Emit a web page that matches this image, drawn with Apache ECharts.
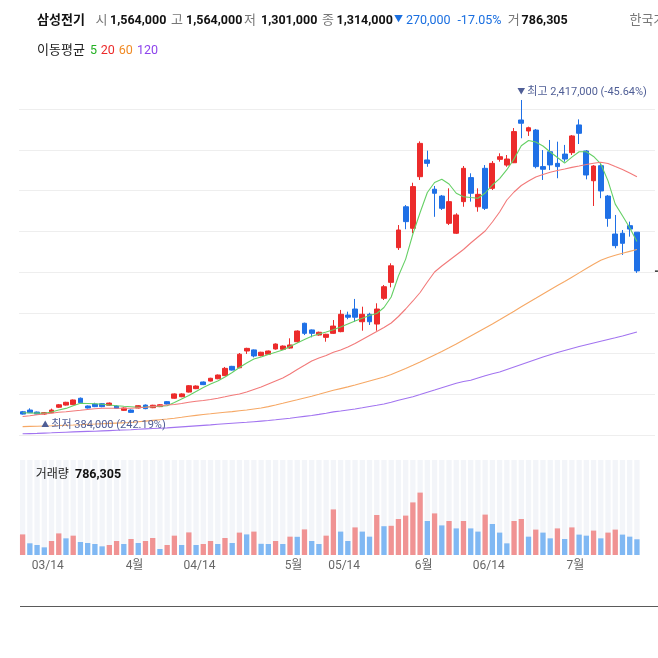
<!DOCTYPE html>
<html><head><meta charset="utf-8">
<script src="https://cdn.jsdelivr.net/npm/echarts/dist/echarts.min.js"></script>
<style>html,body{margin:0;padding:0;background:#fff}#c{width:658px;height:658px}</style>
</head><body><div id="c"></div>
<script>
// prices in thousand KRW
const ohlcOpen = [405,416,403,390,399,434,448,451,492,442,
 455,457,447,442,414,416,429,448,431,438,
 470,492,502,532,554,597,603,618,638,698,
 689,797,804,767,776,810,808,816,857,976,
 933,900,885,911,922,1029,1068,986,1034,971,
 1137,1240,1464,1728,1589,1922,2030,1841,1797,1621,
 1557,1761,1916,1728,1976,1847,2034,1997,2012,2288,
 2217,2223,1987,2083,2008,2068,2077,2256,2088,1896,
 1993,1797,1552,1557,1606,1564];
const ohlcClose = [390,399,390,399,416,450,466,481,463,429,
 438,438,461,427,429,401,444,425,447,450,
 455,520,520,573,571,580,621,642,685,674,
 776,814,765,789,797,842,829,836,926,911,
 911,918,905,958,1034,1015,1015,1034,986,1068,
 1212,1347,1578,1632,1858,2137,2008,1815,1718,1761,
 1675,1976,1815,1808,1718,2008,2051,2036,2213,2267,
 2238,1987,1970,1998,1987,2036,2185,2202,1933,1991,
 1830,1653,1477,1492,1584,1314];
const ohlcLow = [387,397,388,384,396,429,445,448,460,426,
 435,434,443,424,410,397,426,421,428,435,
 452,489,499,529,551,577,600,615,635,671,
 686,778,756,762,772,806,804,812,851,900,
 885,896,857,907,918,1002,986,928,965,928,
 1126,1208,1449,1583,1557,1901,1986,1663,1707,1610,
 1552,1728,1761,1696,1707,1836,2019,1986,2010,2170,
 2185,1976,1901,1965,1912,2019,2062,2133,1905,1733,
 1783,1599,1460,1417,1535,1301];
const ohlcHigh = [410,427,406,403,425,455,469,484,497,445,
 463,461,465,446,433,420,448,452,450,454,
 474,523,524,577,575,600,624,645,694,701,
 784,818,807,792,800,846,833,879,930,980,
 936,922,908,997,1062,1051,1133,1083,1044,1105,
 1223,1363,1610,1739,1883,2150,2090,1862,1804,1847,
 1686,1991,1944,1847,1997,2023,2073,2062,2236,2417,
 2245,2230,2094,2159,2148,2127,2191,2292,2094,1997,
 2004,1804,1675,1578,1632,1564];
const volume = [1030000,585000,500000,383000,700000,1080000,833000,967000,650000,600000,
 550000,433000,500000,700000,550000,800000,600000,700000,850000,300000,
 500000,967000,500000,1130000,500000,550000,700000,550000,850000,600000,
 1120000,1030000,1170000,560000,550000,700000,550000,917000,910000,1280000,
 700000,550000,967000,2280000,1170000,700000,1380000,1170000,917000,2000000,
 1440000,1460000,1800000,1970000,2630000,3120000,1700000,2080000,1480000,1700000,
 1330000,1700000,1330000,1170000,2020000,1550000,1120000,583000,1700000,1800000,
 917000,1270000,1120000,833000,1330000,800000,1380000,1020000,967000,1220000,
 833000,1120000,1270000,1020000,917000,786305];
const ma5 = [398.2,396.9,396.3,395.0,403.4,416.3,426.6,443.4,459.5,458.2,
 456.3,453.7,448.5,444.0,440.2,437.6,434.3,435.6,437.6,440.2,
 443.4,464.7,487.3,509.9,535.7,561.5,584.1,603.4,629.3,658.3,
 690.6,719.6,745.4,758.3,774.5,788.7,803.5,826.1,848.7,871.3,
 892.6,906.8,919.7,933.9,952.0,971.3,990.7,1008.1,1026.2,1039.1,
 1077.8,1145.6,1281.1,1390.0,1552.2,1691.0,1820.0,1884.6,1905.2,1874.8,
 1815.0,1792.9,1787.7,1783.2,1816.8,1868.4,1910.0,1967.0,2037.0,2121.4,
 2155.6,2145.9,2120.1,2081.4,2045.9,2010.0,2048.0,2083.3,2083.3,2052.4,
 2004.0,1895.0,1745.0,1670.0,1592.0,1503.8];
const ma20 = [374.3,379.5,385.3,390.5,395.6,401.4,405.3,409.8,414.3,419.5,
 424.0,427.2,427.2,427.2,427.2,427.2,430.5,434.3,438.9,444.0,
 448.5,451.8,458.2,466.0,472.4,477.6,484.0,492.4,501.5,511.1,
 519.5,532.4,548.6,564.7,584.1,603.4,622.8,648.6,677.7,704.8,
 732.5,751.9,768.0,788.7,803.5,822.9,845.5,871.3,897.1,922.9,
 948.7,977.8,1019.7,1068.1,1119.8,1174.6,1242.4,1306.9,1345.6,1381.2,
 1416.6,1452.1,1494.1,1532.8,1571.5,1629.6,1694.2,1771.6,1823.2,1865.2,
 1894.2,1920.1,1936.2,1950.4,1962.0,1971.7,1982.0,1991.0,2000.7,2009.1,
 2015.0,2007.2,1987.8,1968.5,1945.9,1922.0];
const ma60 = [309.1,310.4,311.7,313.0,314.3,316.2,318.2,319.5,321.4,324.0,
 325.9,327.9,329.8,331.7,333.7,335.6,340.1,344.6,349.1,353.7,
 358.2,363.3,369.2,375.6,381.4,387.2,391.7,396.9,401.4,405.9,
 411.1,416.3,422.7,429.2,438.2,448.5,459.5,471.1,482.1,493.7,
 505.3,517.6,530.5,543.4,554.4,565.4,577.6,590.5,603.4,616.3,
 629.3,645.4,664.8,684.1,704.8,726.1,748.7,771.2,793.8,817.7,
 842.2,868.1,893.9,919.7,945.5,971.3,998.4,1026.2,1053.9,1082.3,
 1110.1,1137.2,1164.9,1192.0,1219.2,1245.6,1273.4,1301.1,1328.9,1356.6,
 1382.4,1400.5,1415.3,1427.6,1439.9,1452.1];
const ma120 = [262.7,264.0,265.2,267.2,269.1,271.1,273.0,274.9,276.9,278.2,
 279.4,281.4,283.3,285.3,287.2,289.1,291.7,294.3,296.9,298.8,
 300.7,304.0,307.2,310.4,313.7,316.9,320.1,324.0,327.2,330.4,
 333.7,336.9,340.8,344.6,348.5,353.0,358.2,363.3,369.2,375.0,
 380.8,387.9,395.6,404.0,409.8,416.3,422.7,430.5,438.9,446.6,
 455.0,466.6,478.9,490.5,502.1,516.3,531.2,545.4,560.2,575.0,
 589.2,600.2,608.0,622.8,637.0,649.9,661.5,677.7,693.8,709.9,
 726.1,742.2,758.3,773.2,787.4,800.3,813.2,825.5,837.1,848.7,
 860.3,871.3,882.2,893.9,906.8,919.7];
const tickIndex = [3,15,24,37,44,55,64,76];
const tickLabels = ['03/14','4월','04/14','5월','05/14','6월','06/14','7월'];
const maNames = ['5','20','60','120'];

const FONT = 'Roboto, "Noto Sans CJK KR", sans-serif';
const UP = '#ec2b2b', DOWN = '#1f70e6';
const UPV = '#f09393', DOWNV = '#80b8f3';
const MA_LINE = ['#66d066','#f27a7a','#f6a865','#a274f0'];
const MA_TEXT = ['#22b022','#ec2a2a','#f08a24','#8d44ec'];
const ANN = '#4f5e96';
const CHG = '#1a6fe0';

const N = ohlcOpen.length;
const categories = Array.from({length: N + 2}, (_, i) => 'd' + i);
const candleData = ohlcOpen.map((o, i) => [o, ohlcClose[i], ohlcLow[i], ohlcHigh[i]]);
const fmtK = v => Math.round(v * 1000).toLocaleString('en-US');

const last = N - 1;
const maxV = Math.max(...ohlcHigh), maxI = ohlcHigh.indexOf(maxV);
const minV = Math.min(...ohlcLow), minI = ohlcLow.indexOf(minV);
const lastClose = ohlcClose[last];
const prevClose = ohlcClose[last - 1];
const chg = lastClose - prevClose;
const chgPct = (chg / prevClose * 100).toFixed(2);
const maxPct = ((lastClose / maxV - 1) * 100).toFixed(2);
const minPct = ((lastClose / minV - 1) * 100).toFixed(2);

function txt(text, x, y, fill, size, bold, align) {
  return {type: 'text', x: x, y: y, silent: true, z: 100,
    style: {text: text, fill: fill, font: (bold ? 'bold ' : '') + size + 'px ' + FONT,
      verticalAlign: 'middle', textVerticalAlign: 'middle',
      align: align || 'left', textAlign: align || 'left'}};
}

const maSeries = [ma5, ma20, ma60, ma120].map((d, k) => ({
  name: 'MA' + maNames[k], type: 'line', xAxisIndex: 0, yAxisIndex: 0,
  data: d, showSymbol: false, symbol: 'none', silent: true, z: 3,
  lineStyle: {width: 1.1, color: MA_LINE[k]}, itemStyle: {color: MA_LINE[k]}
}));

const chart = echarts.init(document.getElementById('c'), null, {renderer: 'canvas'});
chart.setOption({
  animation: false,
  backgroundColor: '#fff',
  grid: [
    {left: 19, width: 636, top: 109, height: 326},
    {left: 19, width: 636, top: 460, height: 95}
  ],
  xAxis: [
    {type: 'category', gridIndex: 0, data: categories, boundaryGap: true, show: false},
    {type: 'category', gridIndex: 1, data: categories, boundaryGap: true,
     axisLine: {show: false}, axisTick: {show: false}, splitLine: {show: false},
     axisLabel: {
       interval: (idx) => tickIndex.includes(idx),
       margin: 5,
       formatter: (val, idx) => '{a|' + (tickIndex.includes(idx) ? tickLabels[tickIndex.indexOf(idx)] : '') + '}',
       rich: {a: {padding: [0, 0, 0, 7], color: '#666', fontSize: 12, fontFamily: FONT}}
     }}
  ],
  yAxis: [
    {type: 'value', gridIndex: 0, min: 254.9, max: 2358.9, show: false, scale: true},
    {type: 'value', gridIndex: 0, min: 0, max: 8, interval: 1,
     axisLine: {show: false}, axisTick: {show: false}, axisLabel: {show: false},
     splitLine: {show: true, lineStyle: {color: '#eeeeee', width: 1}}},
    {type: 'value', gridIndex: 1, min: 0, max: 4750000, show: false}
  ],
  series: [
    {
      name: 'price', type: 'candlestick', xAxisIndex: 0, yAxisIndex: 0,
      data: candleData, barWidth: 5.3, clip: false, z: 2,
      itemStyle: {color: UP, color0: DOWN, borderColor: UP, borderColor0: DOWN, borderWidth: 1}
    },
    ...maSeries,
    {
      name: 'volume', type: 'bar', xAxisIndex: 1, yAxisIndex: 2, barWidth: 5.3,
      showBackground: true, backgroundStyle: {color: '#f3f5f9'},
      data: volume.map((v, i) => ({value: v,
        itemStyle: {color: (i === 0 || v > volume[i - 1]) ? UPV : DOWNV}}))
    }
  ]
});

const pMax = chart.convertToPixel({xAxisIndex: 0, yAxisIndex: 0}, [maxI, maxV]);
const pMin = chart.convertToPixel({xAxisIndex: 0, yAxisIndex: 0}, [minI, minV]);
const pLast = chart.convertToPixel({xAxisIndex: 0, yAxisIndex: 0}, [last, lastClose]);

const graphics = [
  txt('삼성전기', 37, 21, '#111', 13, true),
  txt('시', 95.5, 21, '#777', 13, false),
  txt(fmtK(ohlcOpen[last]), 110, 21, '#111', 12.5, true),
  txt('고', 171, 21, '#777', 13, false),
  txt(fmtK(ohlcHigh[last]), 186, 21, '#111', 12.5, true),
  txt('저', 244, 21, '#777', 13, false),
  txt(fmtK(ohlcLow[last]), 261, 21, '#111', 12.5, true),
  txt('종', 322, 21, '#777', 13, false),
  txt(fmtK(lastClose), 336.5, 21, '#111', 12.5, true),
  txt(chg < 0 ? '▼' : '▲', 398.5, 20, chg < 0 ? CHG : UP, 9, false, 'center'),
  txt(fmtK(Math.abs(chg)), 406, 21, CHG, 12.5, false),
  txt(chgPct + '%', 457.4, 21, CHG, 12.5, false),
  txt('거', 507.8, 21, '#777', 13, false),
  txt(volume[last].toLocaleString('en-US'), 521.6, 21, '#111', 12.5, true),
  txt('한국거래소', 629.5, 21, '#777', 13, false),
  txt('이동평균', 37, 51, '#222', 13, false),
  txt(maNames[0], 90, 51, MA_TEXT[0], 12.5, false),
  txt(maNames[1], 100.7, 51, MA_TEXT[1], 12.5, false),
  txt(maNames[2], 118.8, 51, MA_TEXT[2], 12.5, false),
  txt(maNames[3], 137, 51, MA_TEXT[3], 12.5, false),
  txt('거래량', 35.7, 475, '#222', 12, false),
  txt(volume[last].toLocaleString('en-US'), 75, 475, '#111', 12.5, true),
  txt('▼', pMax[0], pMax[1] - 8, ANN, 8, false, 'center'),
  txt('최고 ' + fmtK(maxV) + ' (' + maxPct + '%)', pMax[0] + 6, pMax[1] - 8, ANN, 11, false),
  txt('▲', pMin[0] + 1, pMin[1] + 10.5, ANN, 8, false, 'center'),
  txt('최저 ' + fmtK(minV) + ' (' + minPct + '%)', pMin[0] + 7, pMin[1] + 10.5, ANN, 11, false),
  {type: 'rect', silent: true, z: 100, shape: {x: pLast[0] + 18, y: pLast[1] - 0.5, width: 3, height: 1.5},
   style: {fill: '#333'}},
  {type: 'line', silent: true, z: 100, shape: {x1: 20, y1: 606.5, x2: 658, y2: 606.5},
   style: {stroke: '#5a5a5a', lineWidth: 1}}
];
chart.setOption({graphic: graphics});
</script>
</body></html>
